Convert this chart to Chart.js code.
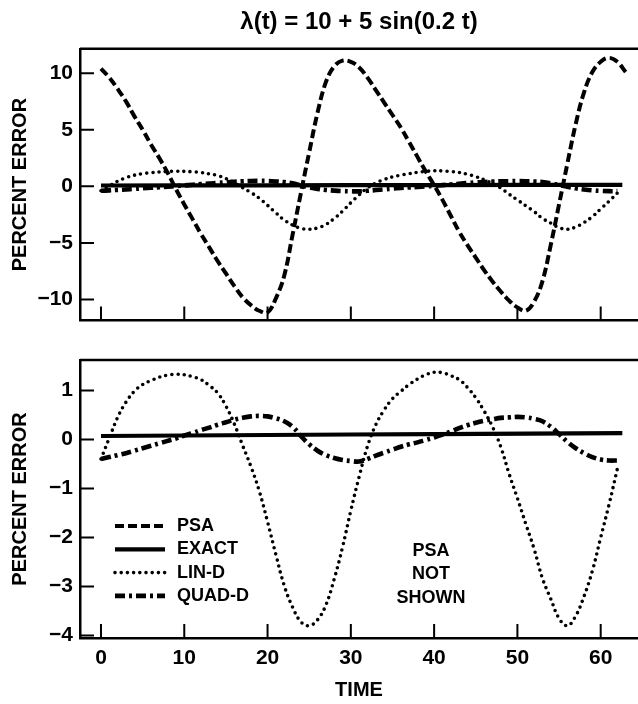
<!DOCTYPE html>
<html>
<head>
<meta charset="utf-8">
<title>Percent error</title>
<script src="https://cdn.jsdelivr.net/npm/chart.js@4.4.1/dist/chart.umd.min.js"></script>
<style>
  body { margin: 0; background: #fff; }
  #wrap { position: relative; width: 638px; height: 704px; background: #fff; }
  canvas { position: absolute; left: 0; }
  #top { top: 0; }
  #bottom { top: 340px; }
</style>
</head>
<body>
<div id="wrap">
  <canvas id="top" width="638" height="340"></canvas>
  <canvas id="bottom" width="638" height="364"></canvas>
</div>
<script>
// sample times (one every time unit)
const time = [0, 1, 2, 3, 4, 5, 6, 7, 8, 9, 10, 11, 12, 13, 14, 15, 16, 17, 18, 19,
  20, 21, 22, 23, 24, 25, 26, 27, 28, 29, 30, 31, 32, 33, 34, 35, 36, 37, 38, 39,
  40, 41, 42, 43, 44, 45, 46, 47, 48, 49, 50, 51, 52, 53, 54, 55, 56, 57, 58, 59,
  60, 61, 62, 63];

// percent error curves
const psa = [10.4, 9.6, 8.6, 7.5, 6.2, 5.0, 3.7, 2.5, 1.2, -0.25,
  -1.6, -2.9, -4.2, -5.4, -6.6, -7.7, -8.8, -9.8, -10.5, -11.0,
  -11.15, -9.9, -7.9, -4.3, -0.6, 3.0, 6.5, 9.2, 10.6, 11.1,
  11.0, 10.5, 9.6, 8.5, 7.4, 6.3, 5.2, 3.9, 2.6, 1.3,
  0.1, -1.2, -2.6, -4.0, -5.2, -6.3, -7.4, -8.4, -9.3, -10.1,
  -10.7, -11.0, -10.2, -8.4, -5.2, -1.6, 2.0, 5.5, 8.3, 10.1,
  11.0, 11.35, 11.0, 10.1];

const linD = [-0.4, 0.03, 0.45, 0.76, 0.98, 1.12, 1.2, 1.27, 1.31, 1.33,
  1.32, 1.28, 1.22, 1.1, 0.95, 0.68, 0.32, -0.12, -0.55, -1.05,
  -1.68, -2.35, -2.98, -3.42, -3.72, -3.8, -3.68, -3.38, -2.85, -2.2,
  -1.45, -0.76, -0.14, 0.3, 0.6, 0.83, 0.98, 1.12, 1.23, 1.32,
  1.37, 1.36, 1.3, 1.22, 1.06, 0.85, 0.58, 0.26, -0.15, -0.7,
  -1.2, -1.72, -2.23, -2.83, -3.25, -3.65, -3.8, -3.6, -3.2, -2.68,
  -2.0, -1.33, -0.6];

const quadD = [-0.4, -0.36, -0.32, -0.28, -0.23, -0.18, -0.13, -0.08, -0.03, 0.02,
  0.08, 0.13, 0.19, 0.24, 0.3, 0.35, 0.4, 0.44, 0.47, 0.48,
  0.47, 0.43, 0.37, 0.26, 0.07, -0.1, -0.23, -0.32, -0.38, -0.42,
  -0.44, -0.45, -0.4, -0.33, -0.27, -0.21, -0.15, -0.1, -0.06, -0.01,
  0.04, 0.1, 0.16, 0.23, 0.29, 0.34, 0.38, 0.41, 0.44, 0.45,
  0.46, 0.45, 0.42, 0.37, 0.26, 0.11, -0.05, -0.18, -0.28, -0.36,
  -0.41, -0.43, -0.43];

const exactTime = [0, 20, 40, 62.6];
const exact = [0.07, 0.09, 0.11, 0.13];

// axis ticks
const xTicks = [0, 10, 20, 30, 40, 50, 60];
const topYTicks = [-10, -5, 0, 5, 10];
const bottomYTicks = [-4, -3, -2, -1, 0, 1];

const noteLines = ['PSA', 'NOT', 'SHOWN'];

Chart.defaults.font.family = '"Liberation Sans", Arial, sans-serif';
Chart.defaults.color = '#000';

const pts = (xs, ys) => ys.map((y, i) => ({ x: xs[i], y: y }));
const minus = (v) => (v < 0 ? '\u2212' + Math.abs(v) : String(v));

const makeDatasets = (showPsa) => [
  { label: 'PSA', data: pts(time, psa), borderDash: [9, 4], borderWidth: 4, hidden: !showPsa },
  { label: 'EXACT', data: pts(exactTime, exact), borderWidth: 4.2 },
  { label: 'LIN-D', data: pts(time, linD), borderDash: [0, 6.2], borderWidth: 3.6, borderCapStyle: 'round' },
  { label: 'QUAD-D', data: pts(time, quadD), borderDash: [10, 4, 3, 4], borderWidth: 4.6 },
].map((d) => Object.assign({
  borderColor: '#000',
  pointRadius: 0,
  fill: false,
  tension: 0.4,
}, d));

// top frame line and inward tick marks
const framePlugin = {
  id: 'frame',
  afterDraw(chart) {
    const { ctx, chartArea: a, scales } = chart;
    ctx.save();
    ctx.strokeStyle = '#000';
    ctx.lineWidth = 2.5;
    ctx.beginPath();
    ctx.moveTo(a.left, a.top);
    ctx.lineTo(a.right, a.top);
    ctx.stroke();
    ctx.lineWidth = 2;
    ctx.beginPath();
    scales.x.ticks.forEach((t) => {
      const p = scales.x.getPixelForValue(t.value);
      ctx.moveTo(p, a.bottom);
      ctx.lineTo(p, a.bottom - 14);
    });
    scales.y.ticks.forEach((t) => {
      const p = scales.y.getPixelForValue(t.value);
      ctx.moveTo(a.left, p);
      ctx.lineTo(a.left + 14, p);
    });
    ctx.stroke();
    ctx.restore();
  },
};

// legend and note inside the lower panel
const notePlugin = {
  id: 'note',
  afterDraw(chart) {
    const { ctx, chartArea: a } = chart;
    ctx.save();
    ctx.font = 'bold 18px "Liberation Sans", Arial, sans-serif';
    ctx.fillStyle = '#000';
    ctx.strokeStyle = '#000';
    ctx.textBaseline = 'middle';
    chart.data.datasets.forEach((d, i) => {
      const y = a.top + 166 + i * 23.3;
      ctx.beginPath();
      ctx.setLineDash(d.borderDash || []);
      ctx.lineWidth = d.borderWidth;
      ctx.lineCap = d.borderCapStyle || 'butt';
      ctx.moveTo(a.left + 35, y);
      ctx.lineTo(a.left + 85, y);
      ctx.stroke();
      ctx.fillText(d.label, a.left + 97, y);
    });
    ctx.setLineDash([]);
    ctx.textAlign = 'center';
    noteLines.forEach((s, i) => ctx.fillText(s, a.left + 351, a.top + 191 + i * 23.5));
    ctx.restore();
  },
};

const makeOptions = (yMin, yMax, yTicks, showX, padding, title) => ({
  responsive: false,
  animation: false,
  devicePixelRatio: 1,
  layout: { padding: padding },
  plugins: {
    legend: { display: false },
    tooltip: { enabled: false },
    title: title,
  },
  scales: {
    x: {
      type: 'linear',
      min: -2.52,
      max: 64.48,
      afterBuildTicks: (s) => { s.ticks = xTicks.map((v) => ({ value: v })); },
      afterFit: (s) => { s.height = showX ? 64 : 0; },
      grid: { drawOnChartArea: false, drawTicks: false },
      border: { color: '#000', width: 2.5 },
      ticks: { display: showX, padding: 8, color: '#000', font: { size: 21, weight: 'bold' } },
      title: {
        display: showX,
        text: 'TIME',
        color: '#000',
        font: { size: 20, weight: 'bold' },
        padding: { top: 4, bottom: 0 },
      },
    },
    y: {
      type: 'linear',
      min: yMin,
      max: yMax,
      afterBuildTicks: (s) => { s.ticks = yTicks.map((v) => ({ value: v })); },
      afterFit: (s) => { s.width = 80; },
      grid: { drawOnChartArea: false, drawTicks: false },
      border: { color: '#000', width: 2.5 },
      ticks: { padding: 7, color: '#000', font: { size: 21, weight: 'bold' }, callback: minus },
      title: {
        display: true,
        text: 'PERCENT ERROR',
        color: '#000',
        font: { size: 20, weight: 'bold' },
        padding: { top: 8, bottom: 0 },
      },
    },
  },
});

new Chart(document.getElementById('top').getContext('2d'), {
  type: 'line',
  data: { datasets: makeDatasets(true) },
  options: makeOptions(-11.85, 12.15, topYTicks, false, { top: 0, bottom: 18, left: 0, right: 0 }, {
    display: true,
    text: '\u03bb(t) = 10 + 5 sin(0.2 t)',
    fullSize: false,
    color: '#000',
    font: { size: 24, weight: 'bold' },
    padding: { top: 8, bottom: 12 },
  }),
  plugins: [framePlugin],
});

new Chart(document.getElementById('bottom').getContext('2d'), {
  type: 'line',
  data: { datasets: makeDatasets(false) },
  options: makeOptions(-4.05, 1.62, bottomYTicks, true, { top: 20, bottom: 2, left: 0, right: 0 }, { display: false }),
  plugins: [framePlugin, notePlugin],
});
</script>
</body>
</html>
